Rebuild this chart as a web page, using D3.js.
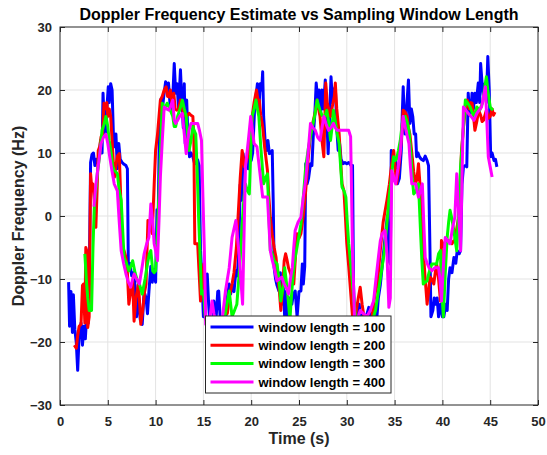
<!DOCTYPE html>
<html>
<head>
<meta charset="utf-8">
<script src="https://cdn.jsdelivr.net/npm/d3@7"></script>
<style>
  body { margin: 0; background: #fff; }
  svg { display: block; font-family: "Liberation Sans", Arial, sans-serif; }
</style>
</head>
<body>
<svg width="547" height="455"></svg>
<script>
// Doppler frequency estimate (Hz) vs time (s), one series per window length
var xTicks = [0, 5, 10, 15, 20, 25, 30, 35, 40, 45, 50];
var yTicks = [-30, -20, -10, 0, 10, 20, 30];
var windowLengths = [100, 200, 300, 400];
var seriesColors = ["#0000ff", "#ff0000", "#00ff00", "#ff00ff"];

var win100 = [[0.9,-10.5],[1.0,-17.5],[1.15,-12],[1.3,-18.5],[1.4,-12.5],[1.55,-18],[1.7,-20],[1.85,-24.5],[2.0,-19],[2.2,-17],[2.35,-20.5],[2.5,-17.5],[2.65,-19.5],[2.8,-15.5],[2.95,-17],[3.1,-5],[3.2,8.5],[3.35,9.8],[3.5,10],[3.65,8],[3.8,9],[3.95,8.5],[4.1,9.5],[4.25,12],[4.4,10],[4.5,19.5],[4.6,16],[4.75,13],[4.9,17],[5.05,20.5],[5.15,18],[5.3,21],[5.45,20],[5.6,12],[5.7,11],[5.85,13],[6.0,7.5],[6.15,11.5],[6.3,9],[6.5,8.5],[6.7,8.2],[6.9,8],[7.05,7.5],[7.15,-8],[7.3,-7.5],[7.5,-9.5],[7.7,-9],[7.85,-11],[8.0,-16],[8.2,-13],[8.4,-16.5],[8.6,-17.2],[8.8,-12],[9.0,-13],[9.15,-15.5],[9.3,-12],[9.5,-8],[9.65,-10.5],[9.85,-8.5],[10.0,-10.5],[10.15,1],[10.25,-2.5],[10.4,14],[10.55,18.5],[10.7,16.8],[10.85,19],[11.05,21.3],[11.2,20],[11.35,21.1],[11.5,18],[11.65,16.5],[11.8,19],[11.95,24.2],[12.1,19.5],[12.25,21],[12.4,17],[12.6,23.2],[12.75,18],[12.9,14],[13.0,21],[13.1,11.5],[13.25,18.4],[13.4,12],[13.55,9.4],[13.7,10],[13.9,9.4],[14.05,8.5],[14.2,8.3],[14.4,8.9],[14.55,8],[14.7,-5.5],[14.85,-10],[15.0,-16],[15.2,-12],[15.4,-9.2],[15.55,-14],[15.7,-17.7],[15.9,-19],[16.1,-13.5],[16.3,-17],[16.5,-12],[16.6,-11.9],[16.75,-16],[16.9,-19],[17.1,-17],[17.3,-17.2],[17.5,-13],[17.7,-10.8],[17.85,-12.4],[18.0,-11],[18.2,-12],[18.4,-8.7],[18.55,-9.5],[18.7,-5.5],[18.85,5],[19.0,2.5],[19.15,9.9],[19.3,7.2],[19.5,9],[19.7,7.5],[19.85,9.5],[20.0,8.8],[20.15,10],[20.35,16.8],[20.5,19],[20.65,21],[20.8,17],[20.95,21],[21.1,20],[21.2,22.9],[21.3,15.8],[21.45,12],[21.6,10.4],[21.75,12],[21.9,9.9],[22.05,10],[22.2,10.4],[22.3,2.5],[22.4,-8.2],[22.55,-10],[22.7,-11],[22.9,-11.9],[23.05,-9],[23.2,-14],[23.35,-10.8],[23.5,-16],[23.65,-12],[23.8,-16],[24.0,-13],[24.25,-14],[24.4,-12.5],[24.6,-11.9],[24.8,-16],[25.0,-12],[25.2,-11.9],[25.35,-7.6],[25.45,-10.8],[25.6,-8],[25.7,8.3],[25.85,5.1],[26.0,6],[26.2,8.3],[26.35,8],[26.5,13],[26.65,16],[26.8,21.1],[26.95,18.4],[27.1,20],[27.25,16],[27.4,20],[27.55,17],[27.75,21.6],[27.9,16],[28.05,9.9],[28.2,16],[28.35,22.1],[28.5,18],[28.65,20],[28.8,20.5],[28.95,14],[29.1,10.4],[29.25,11.5],[29.4,9],[29.6,8.3],[29.8,8.5],[30.0,8.3],[30.2,8.5],[30.45,8],[30.6,8],[30.7,-10.8],[30.85,-17],[31.0,-19],[31.15,-14],[31.3,-14],[31.5,-18],[31.7,-15.6],[31.9,-16],[32.1,-15.6],[32.3,-14.5],[32.5,-17],[32.7,-19],[32.9,-14],[33.1,-17],[33.3,-13],[33.5,-11],[33.7,-8],[33.9,-5],[34.1,-2],[34.25,0],[34.4,-7],[34.55,-7.6],[34.65,10.4],[34.8,9],[34.95,8.8],[35.1,9],[35.3,5.1],[35.5,6],[35.7,10.4],[35.8,16],[35.9,20.5],[36.0,15.8],[36.1,13],[36.25,17],[36.45,21.6],[36.6,14.7],[36.75,17],[36.9,15.8],[37.05,13],[37.2,13],[37.3,9.4],[37.45,10],[37.6,9.4],[37.8,9],[38.0,8.8],[38.2,9.5],[38.4,8.8],[38.55,8],[38.7,-5.5],[38.8,-16],[39.0,-15],[39.15,-13],[39.3,-14],[39.45,-13],[39.6,-16],[39.8,-14],[40.0,-16],[40.15,-16],[40.35,-14],[40.5,-15],[40.65,-10],[40.8,-8.2],[41.0,-9],[41.2,-6.6],[41.4,-7.5],[41.55,-5.5],[41.75,-6],[41.9,-5.5],[42.05,5],[42.2,7.8],[42.4,8],[42.55,7.8],[42.7,19.5],[42.85,16],[43.0,17],[43.1,19.5],[43.25,17],[43.4,19.5],[43.55,18],[43.75,21.1],[43.9,18],[44.0,24.2],[44.15,21.1],[44.3,19],[44.45,21],[44.6,18],[44.75,25.3],[44.9,20],[45.05,9.4],[45.2,10],[45.4,8.8],[45.55,9],[45.7,7.8]];

var win200 = [[1.5,-20.5],[1.7,-21],[1.85,-19],[2.0,-17.5],[2.2,-17.2],[2.35,-11],[2.45,-10.8],[2.6,-17],[2.7,-5],[2.8,-5.5],[2.9,-17.7],[3.05,-16],[3.2,6.7],[3.35,4],[3.45,5.1],[3.6,2],[3.75,-1.8],[3.9,5],[4.0,10.4],[4.15,11],[4.3,12.6],[4.45,13],[4.6,17.9],[4.75,17],[4.9,18],[5.0,15.8],[5.15,17],[5.3,15.8],[5.45,12],[5.6,8],[5.7,6.2],[5.85,8],[6.0,9.5],[6.2,9.9],[6.35,3],[6.5,-5],[6.7,-5.5],[6.9,-6.6],[7.05,-9],[7.2,-14],[7.4,-12],[7.6,-10.3],[7.75,-16.7],[7.95,-13],[8.2,-10.8],[8.3,-13],[8.45,-17.2],[8.65,-15],[8.85,-12],[9.0,-10.8],[9.2,-0.7],[9.35,-1.5],[9.5,-2],[9.65,-2.8],[9.85,5],[10.0,10.4],[10.2,13],[10.5,18.4],[10.7,19],[10.9,20],[11.1,20.5],[11.25,19],[11.4,18.9],[11.55,20],[11.7,18],[11.9,19.5],[12.05,17],[12.2,16.8],[12.4,17],[12.6,18.4],[12.8,17],[13.0,16],[13.2,15.8],[13.35,16],[13.5,16.3],[13.7,16],[13.9,15.8],[14.0,12],[14.1,-4.4],[14.25,-4.4],[14.4,-4.4],[14.55,-9],[14.7,-13.5],[14.85,-11],[15.05,-7.6],[15.2,-16],[15.4,-17],[15.6,-18],[15.8,-17],[16.0,-19],[16.3,-17],[16.6,-18.5],[16.9,-17],[17.1,-16],[17.3,-14.5],[17.5,-15.5],[17.75,-12.5],[18.0,-10.8],[18.2,-9],[18.45,-5],[18.7,1.9],[18.85,6],[19.05,10.4],[19.2,9],[19.3,7.8],[19.55,9],[19.8,10.4],[19.95,13],[20.1,15.8],[20.3,18],[20.55,20],[20.7,18.5],[20.85,18.4],[21.0,16],[21.2,14.2],[21.4,11],[21.6,8.5],[21.7,7.2],[21.85,3],[22.0,-0.2],[22.2,-3],[22.4,-5],[22.6,-6.6],[22.8,-10],[22.95,-12],[23.1,-15],[23.3,-11],[23.45,-7.1],[23.6,-6],[23.75,-7],[23.9,-8.2],[24.2,-9.5],[24.45,-10.8],[24.65,-6],[24.8,-2.8],[25.0,-3.5],[25.2,-2.8],[25.45,0],[25.7,4],[25.9,8],[26.2,13],[26.5,15.2],[26.7,16.5],[26.9,18.4],[27.05,17],[27.2,15.8],[27.4,12],[27.6,9.4],[27.8,21.1],[27.95,18],[28.1,17],[28.3,15.8],[28.5,17.5],[28.7,19],[28.8,21.1],[28.95,17],[29.2,13],[29.35,9],[29.5,5.1],[29.7,4],[29.85,0],[30.0,-4.4],[30.2,-8],[30.4,-12],[30.6,-16],[30.8,-17],[31.0,-15],[31.2,-13],[31.4,-11.3],[31.6,-14],[31.8,-16],[32.1,-17],[32.5,-17.7],[32.8,-14],[33.0,-12],[33.2,-10.8],[33.5,-5.5],[33.8,-1],[34.2,2.5],[34.45,5],[34.7,8.3],[34.9,10.4],[35.05,8],[35.2,5.1],[35.4,7],[35.6,10.4],[35.75,13],[35.9,16.8],[36.1,16.5],[36.3,15.8],[36.45,14],[36.6,13],[36.8,10],[37.0,7],[37.2,5.1],[37.35,6],[37.5,8.3],[37.7,4],[37.85,0],[38.0,-5.5],[38.2,-10],[38.4,-14],[38.55,-12],[38.7,-9.7],[38.9,-10],[39.1,-10.8],[39.25,-9],[39.4,-7.6],[39.6,-10],[39.8,-13.5],[39.9,-3.9],[40.1,-4.5],[40.3,-5.5],[40.45,-4.5],[40.6,-3.9],[40.8,-4],[41.0,-4.4],[41.15,-4],[41.3,-3.9],[41.5,-2],[41.7,-0.2],[41.85,5],[42.0,10.4],[42.2,14],[42.4,17],[42.6,18.4],[42.8,17],[42.95,18],[43.1,17.9],[43.25,16],[43.4,13.6],[43.6,15],[43.8,16.8],[44.0,16],[44.15,15],[44.3,15.2],[44.45,16],[44.6,16.8],[44.8,15.5],[45.0,15.8],[45.2,17],[45.35,16],[45.5,16.5]];

var win300 = [[2.6,-6],[2.75,-10],[2.9,-13],[3.06,-15],[3.3,-15],[3.45,-5],[3.6,1.9],[3.75,4],[3.9,6.7],[4.1,9],[4.25,11],[4.4,13.6],[4.6,14.5],[4.8,15.8],[5.0,14.2],[5.15,12],[5.35,10],[5.5,8],[5.67,7.2],[5.85,7],[6.0,6.7],[6.2,4],[6.4,2.5],[6.55,-2],[6.7,-6.6],[6.95,-7.5],[7.2,-8.7],[7.4,-8],[7.6,-7.1],[7.85,-9],[8.1,-10.3],[8.35,-11],[8.6,-12.4],[8.9,-10],[9.15,-7.6],[9.35,-6],[9.5,-5.5],[9.7,-8.7],[9.85,-9],[10.0,-8.7],[10.2,-2],[10.4,5.1],[10.55,12],[10.7,17.9],[10.95,17],[11.2,17.9],[11.5,17],[11.8,15.8],[11.95,14.2],[12.1,14.2],[12.3,15.8],[12.55,17],[12.8,18.4],[13.0,17],[13.2,15.8],[13.35,13],[13.5,10.4],[13.7,12],[13.9,14.2],[14.05,13.5],[14.2,13],[14.35,7],[14.5,-0.2],[14.65,-6],[14.8,-12.4],[15.0,-11.9],[15.2,-16],[15.45,-17.5],[15.8,-18],[16.2,-18.5],[16.6,-17.5],[17.0,-18],[17.35,-15],[17.7,-11.9],[17.85,-14],[18.0,-16],[18.25,-15],[18.5,-14],[18.8,-8],[19.1,-0.2],[19.25,3],[19.4,5.1],[19.6,4],[19.8,3.5],[19.95,10],[20.1,15.8],[20.3,17],[20.5,18.4],[20.65,17],[20.8,15.8],[21.0,11],[21.3,5.1],[21.5,6],[21.7,6.7],[21.85,0],[22.0,-5.5],[22.2,-6],[22.4,-7.1],[22.7,-7.6],[22.9,-10],[23.1,-13.5],[23.25,-12],[23.4,-10.8],[23.5,-8.2],[23.8,-12],[24.05,-16.5],[24.2,-13],[24.4,-9],[24.6,-6.6],[24.9,-4],[25.2,-1.3],[25.45,3],[25.7,7.8],[26.0,11],[26.4,14.2],[26.65,16],[26.9,18.4],[27.05,17.5],[27.2,16.8],[27.4,16],[27.6,15.8],[27.75,16],[27.9,16.8],[28.1,15],[28.3,12],[28.45,14],[28.6,16.8],[28.8,15],[29.0,13],[29.2,11.5],[29.35,8],[29.5,4.6],[29.7,4],[29.9,3],[30.05,-1],[30.2,-4.4],[30.4,-7.5],[30.6,-10.8],[30.9,-16],[31.2,-17.5],[31.6,-18],[32.0,-17],[32.4,-18.5],[32.8,-16],[33.0,-15],[33.2,-13],[33.5,-10],[33.9,-6],[34.15,-2],[34.4,2.5],[34.65,6],[34.9,9.4],[35.05,8.8],[35.2,9],[35.4,10.4],[35.6,12],[35.8,14.7],[36.1,15.8],[36.3,15],[36.5,13.6],[36.7,10],[36.85,6],[37.0,3.5],[37.25,4],[37.5,5.1],[37.7,-2],[37.85,-7],[38.0,-10.8],[38.2,-10.5],[38.4,-10.3],[38.6,-9],[38.9,-7.6],[39.2,-7.6],[39.4,-7.6],[39.6,-6],[39.8,-5.5],[39.95,-12],[40.1,-16],[40.3,-9],[40.5,-3.4],[40.65,-1],[40.8,0.9],[41.0,-0.5],[41.2,-2.3],[41.35,-4],[41.5,-5.5],[41.7,1],[41.9,7.8],[42.15,13],[42.4,18.4],[42.6,18],[42.9,17.3],[43.1,16.5],[43.3,15.8],[43.45,16.5],[43.6,17.3],[43.75,17],[43.9,16.8],[44.2,18],[44.5,21.1],[44.6,22.1],[44.75,20],[45.0,17.3],[45.15,17],[45.3,16.8]];

var win400 = [[3.55,1.5],[3.76,5.1],[4.0,8],[4.3,11.5],[4.55,12.5],[4.8,13],[5.0,11.5],[5.15,9.9],[5.4,7.5],[5.67,5.1],[6.0,4],[6.2,-1],[6.4,-5.5],[6.65,-7.5],[6.9,-9.2],[7.15,-10.5],[7.4,-11.3],[7.6,-10],[7.76,-9.2],[8.0,-10],[8.3,-10.8],[8.55,-8.5],[8.8,-6],[9.05,-4.5],[9.3,-3.4],[9.5,1.9],[9.7,-1],[9.85,-4.4],[10.0,-5.5],[10.2,-7.1],[10.35,-1],[10.5,6.2],[10.7,12],[10.9,17.3],[11.15,17],[11.4,16.8],[11.6,17.5],[11.8,18.4],[11.95,15.2],[12.1,14.7],[12.3,15.2],[12.5,15.8],[12.8,16.3],[13.0,13],[13.2,9.9],[13.35,12],[13.5,13.6],[13.7,14.7],[13.9,14.7],[14.15,14.7],[14.4,14.7],[14.6,13.5],[14.8,12],[14.95,3],[15.1,-5.5],[15.25,-17.2],[15.45,-17.5],[15.6,-17.2],[15.9,-13.5],[16.1,-15.5],[16.3,-17.2],[16.6,-18],[17.0,-16],[17.3,-12],[17.7,-8.2],[18.0,-3.4],[18.4,-0.7],[18.7,-5.5],[19.1,-14],[19.25,-3],[19.4,7.8],[19.7,12],[19.95,15.8],[20.3,11.5],[20.6,11],[20.9,7],[21.2,3],[21.45,3],[21.7,3],[22.0,-5.5],[22.2,-7],[22.4,-8.2],[22.7,-10.3],[22.95,-10],[23.2,-9.7],[23.45,-10.8],[23.7,-11.5],[23.9,-12.4],[24.1,-10],[24.3,-8.2],[24.45,-5],[24.6,-2.3],[24.9,-1],[25.2,-0.2],[25.45,3],[25.7,5.7],[25.95,10],[26.2,14.7],[26.45,14],[26.7,13.6],[26.95,12.5],[27.2,12],[27.4,14],[27.6,15.8],[27.85,14.5],[28.1,13.6],[28.35,14],[28.6,14.7],[28.8,14],[29.0,13.6],[29.5,13.6],[30.0,13.6],[30.2,13.6],[30.4,12.6],[30.6,-5.5],[30.8,-16],[31.1,-16.5],[31.4,-15],[31.75,-15.5],[32.1,-16],[32.45,-15],[32.8,-13.5],[33.05,-10],[33.3,-6.6],[33.5,-4],[33.7,-2.8],[34.0,-2.3],[34.2,-6],[34.4,-14.5],[34.55,-13],[34.7,7.2],[34.9,6],[35.1,5.1],[35.35,7.5],[35.6,10.4],[35.9,15.8],[36.2,13.5],[36.5,11.5],[36.65,8],[36.8,5.1],[37.2,5.1],[37.5,3],[37.9,5.1],[38.05,-1],[38.2,-6.6],[38.4,-7.5],[38.6,-8.2],[38.9,-8.7],[39.2,-8.2],[39.6,-8.2],[39.75,-10],[39.9,-13.5],[40.1,-8],[40.3,-3.4],[40.55,-3.9],[40.8,-4.4],[41.05,-2],[41.3,-0.2],[41.5,6.7],[41.9,-5.5],[42.05,6],[42.2,17.3],[42.45,16.8],[42.7,16.3],[43.0,15.8],[43.3,15.2],[43.6,16.3],[43.85,16.8],[44.1,17.3],[44.3,19],[44.5,20.5],[44.65,15],[44.8,9.4],[45.0,7.8],[45.2,6.2]];

var allSeries = [win100, win200, win300, win400];

var svg = d3.select("svg");
var margin = {left: 60, right: 9, top: 27, bottom: 50};
var width = +svg.attr("width"), height = +svg.attr("height");
var innerW = width - margin.left - margin.right,
    innerH = height - margin.top - margin.bottom;
var axisColor = "#262626";

var x = d3.scaleLinear().domain([0, 50]).range([margin.left, margin.left + innerW]);
var y = d3.scaleLinear().domain([-30, 30]).range([margin.top + innerH, margin.top]);

svg.append("defs").append("clipPath").attr("id", "plotclip")
  .append("rect")
    .attr("x", margin.left).attr("y", margin.top)
    .attr("width", innerW).attr("height", innerH);

// grid
var grid = svg.append("g");
grid.selectAll(".gx").data(xTicks.slice(1, -1)).enter().append("line")
    .attr("x1", d => x(d)).attr("x2", d => x(d))
    .attr("y1", margin.top).attr("y2", margin.top + innerH)
    .attr("stroke", "#e3e3e3").attr("stroke-width", 1);
grid.selectAll(".gy").data(yTicks.slice(1, -1)).enter().append("line")
    .attr("y1", d => y(d)).attr("y2", d => y(d))
    .attr("x1", margin.left).attr("x2", margin.left + innerW)
    .attr("stroke", "#e3e3e3").attr("stroke-width", 1);

// series
var line = d3.line().x(d => x(d[0])).y(d => y(d[1]));
svg.append("g").attr("clip-path", "url(#plotclip)")
  .selectAll("path").data(allSeries).enter().append("path")
    .attr("d", line)
    .attr("fill", "none")
    .attr("stroke", (d, i) => seriesColors[i])
    .attr("stroke-width", 3)
    .attr("stroke-linejoin", "round");

// axes (ticks inside, box on)
function styleAxis(g) {
  g.select(".domain").remove();
  g.selectAll(".tick line").attr("stroke", axisColor);
  g.selectAll(".tick text")
    .attr("fill", axisColor)
    .style("font-size", "13px")
    .style("font-weight", "bold")
    .style("font-family", "'Liberation Sans', Arial, sans-serif");
}
svg.append("g").attr("transform", "translate(0," + (margin.top + innerH) + ")")
  .call(d3.axisBottom(x).tickValues(xTicks).tickSize(-5).tickPadding(12))
  .call(styleAxis);
svg.append("g").attr("transform", "translate(0," + margin.top + ")")
  .call(d3.axisTop(x).tickValues(xTicks).tickSize(-5).tickFormat(""))
  .call(styleAxis);
svg.append("g").attr("transform", "translate(" + margin.left + ",0)")
  .call(d3.axisLeft(y).tickValues(yTicks).tickSize(-5).tickPadding(8))
  .call(styleAxis);
svg.append("g").attr("transform", "translate(" + (margin.left + innerW) + ",0)")
  .call(d3.axisRight(y).tickValues(yTicks).tickSize(-5).tickFormat(""))
  .call(styleAxis);

svg.append("rect")
    .attr("x", margin.left).attr("y", margin.top)
    .attr("width", innerW).attr("height", innerH)
    .attr("fill", "none").attr("stroke", axisColor).attr("stroke-width", 1);

// title and labels
svg.append("text")
    .attr("x", margin.left + innerW / 2).attr("y", 20)
    .attr("text-anchor", "middle")
    .style("font-size", "16px").style("font-weight", "bold")
    .attr("fill", "#000")
    .text("Doppler Frequency Estimate vs Sampling Window Length");
svg.append("text")
    .attr("x", margin.left + innerW / 2).attr("y", 444)
    .attr("text-anchor", "middle")
    .style("font-size", "16px").style("font-weight", "bold")
    .attr("fill", axisColor)
    .text("Time (s)");
svg.append("text")
    .attr("transform", "translate(24," + (margin.top + innerH / 2) + ") rotate(-90)")
    .attr("text-anchor", "middle")
    .style("font-size", "16px").style("font-weight", "bold")
    .attr("fill", axisColor)
    .text("Doppler Frequency (Hz)");

// legend
var lg = svg.append("g").attr("transform", "translate(205.5,316)");
lg.append("rect")
    .attr("width", 185.5).attr("height", 77)
    .attr("fill", "#fff").attr("stroke", axisColor).attr("stroke-width", 1);
var rows = lg.selectAll(".row").data(windowLengths).enter().append("g")
    .attr("transform", (d, i) => "translate(0," + (11 + i * 18.3) + ")");
rows.append("line")
    .attr("x1", 5).attr("x2", 48)
    .attr("stroke", (d, i) => seriesColors[i]).attr("stroke-width", 3);
rows.append("text")
    .attr("x", 53).attr("dy", "0.36em")
    .style("font-size", "13px").style("font-weight", "bold")
    .attr("fill", "#000")
    .text(d => "window length = " + d);
</script>
</body>
</html>
